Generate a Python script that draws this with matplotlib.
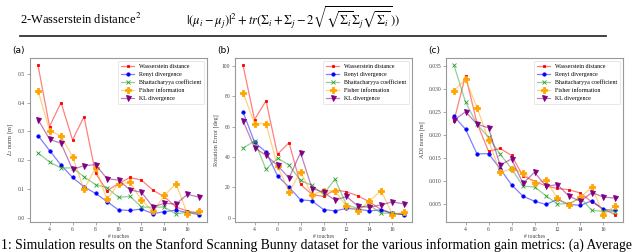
import matplotlib
matplotlib.use("Agg")
import matplotlib.pyplot as plt
from matplotlib.colors import to_rgba
from matplotlib.lines import Line2D

touches = list(range(3, 18))
xticks = [4, 6, 8, 10, 12, 14, 16]

series_names = ["Wasserstein distance", "Renyi divergence", "Bhattacharyya coefficient",
                "Fisher information", "KL divergence"]

# Panel (a): L2 norm [m]
a_wass = [0.528, 0.317, 0.400, 0.271, 0.351, 0.156, 0.095, 0.120, 0.141, 0.132, 0.097, 0.074, 0.039, 0.025, 0.017]
a_renyi = [0.286, 0.234, 0.184, 0.141, 0.109, 0.086, 0.058, 0.029, 0.027, 0.032, 0.016, 0.023, 0.028, 0.020, 0.013]
a_bhat = [0.226, 0.194, 0.174, 0.174, 0.144, 0.116, 0.106, 0.072, 0.076, 0.039, 0.038, 0.039, 0.015, 0.021, 0.020]
a_fisher = [0.441, 0.303, 0.284, 0.213, 0.100, 0.174, 0.065, 0.120, 0.124, 0.063, 0.024, 0.079, 0.120, 0.014, 0.025]
a_kl = [0.341, 0.273, 0.259, 0.169, 0.182, 0.185, 0.137, 0.132, 0.098, 0.090, 0.039, 0.052, 0.049, 0.083, 0.073]

# Panel (b): Rotation Error [deg]
b_wass = [100.2, 64.6, 76.9, 41.8, 49.5, 22.0, 15.4, 14.1, 18.5, 17.1, 14.5, 10.5, 5.5, 3.1, 2.2]
b_renyi = [69.7, 49.7, 43.3, 27.7, 20.2, 11.9, 11.2, 5.5, 4.6, 6.2, 5.7, 4.6, 5.3, 2.9, 2.2]
b_bhat = [45.9, 50.5, 31.9, 39.3, 34.7, 24.6, 21.3, 15.4, 25.5, 8.6, 6.2, 8.4, 3.1, 3.1, 2.6]
b_fisher = [82.4, 62.0, 61.8, 34.1, 17.1, 30.1, 15.2, 18.0, 17.6, 7.7, 4.6, 11.0, 18.0, 2.2, 3.7]
b_kl = [63.7, 46.2, 41.1, 34.5, 26.2, 42.9, 19.3, 16.9, 11.6, 14.1, 7.7, 7.0, 8.6, 10.5, 9.2]

# Panel (c): ADI norm [m]
c_wass = [0.0232, 0.0330, 0.0226, 0.0165, 0.0171, 0.0156, 0.0111, 0.0100, 0.0089, 0.0084, 0.0081, 0.0074, 0.0054, 0.0039, 0.0027]
c_renyi = [0.0241, 0.0213, 0.0159, 0.0160, 0.0127, 0.0092, 0.0067, 0.0056, 0.0049, 0.0060, 0.0049, 0.0047, 0.0057, 0.0038, 0.0036]
c_bhat = [0.0352, 0.0272, 0.0224, 0.0195, 0.0159, 0.0127, 0.0089, 0.0087, 0.0068, 0.0050, 0.0051, 0.0063, 0.0036, 0.0034, 0.0033]
c_fisher = [0.0297, 0.0322, 0.0260, 0.0189, 0.0119, 0.0127, 0.0118, 0.0095, 0.0102, 0.0062, 0.0048, 0.0065, 0.0086, 0.0027, 0.0046]
c_kl = [0.0233, 0.0251, 0.0224, 0.0216, 0.0135, 0.0148, 0.0095, 0.0119, 0.0089, 0.0092, 0.0067, 0.0056, 0.0075, 0.0065, 0.0063]

panel_labels = ["(a)", "(b)", "(c)"]
ylabels = ["$L_2$ norm [m]", "Rotation Error [deg]", "ADI norm [m]"]
panels = [
    [a_wass, a_renyi, a_bhat, a_fisher, a_kl],
    [b_wass, b_renyi, b_bhat, b_fisher, b_kl],
    [c_wass, c_renyi, c_bhat, c_fisher, c_kl],
]
yticks = [
    [0.0, 0.1, 0.2, 0.3, 0.4, 0.5],
    [0, 20, 40, 60, 80, 100],
    [0.005, 0.010, 0.015, 0.020, 0.025, 0.030, 0.035],
]
ytickfmt = ["{:.1f}", "{:d}", "{:.3f}"]

colors = ["red", "blue", "tab:green", "orange", "purple"]
markers = ["s", "o", "x", "P", "v"]
msizes = [1.8, 2.4, 3.2, 4.3, 3.6]

plt.rcParams["font.family"] = ["Liberation Serif", "DejaVu Serif"]
plt.rcParams["mathtext.fontset"] = "stix"

fig = plt.figure(figsize=(6.4, 2.52), dpi=100)

lefts = [30 / 640, 235 / 640, 446 / 640]
width = 177 / 640
bottom = 1 - 222 / 252
height = 164 / 252

for i in range(3):
    ax = fig.add_axes([lefts[i], bottom, width, height])
    for s in range(5):
        c = colors[s]
        ax.plot(touches, panels[i][s], color=to_rgba(c, 0.5), lw=0.9,
                marker=markers[s], markersize=msizes[s],
                markerfacecolor=c, markeredgecolor=c, markeredgewidth=0.6,
                label=series_names[s])
    ax.set_xticks(xticks)
    ax.set_xticklabels([str(t) for t in xticks])
    ax.set_yticks(yticks[i])
    ax.set_yticklabels([ytickfmt[i].format(v) for v in yticks[i]])
    ax.tick_params(labelsize=4, length=2, width=0.5, color="#888888",
                   labelcolor="#444444", pad=1.5)
    for sp in ax.spines.values():
        sp.set_color("#999999")
        sp.set_linewidth(0.8)
    ax.set_xlabel("# touches", fontsize=4, color="#444444", labelpad=1.5)
    ax.set_ylabel(ylabels[i], fontsize=4.5, color="#444444", labelpad=2)
    leg = ax.legend(loc="upper right", fontsize=4.3, frameon=True,
                    handlelength=2.2, borderpad=0.5, labelspacing=0.45,
                    handletextpad=0.8, fancybox=True)
    leg.get_frame().set_linewidth(0.4)
    leg.get_frame().set_edgecolor("#cccccc")
    fig.text(lefts[i] - 18 / 640, 1 - 55 / 252, panel_labels[i], fontsize=6.5,
             family="DejaVu Sans", ha="left", va="bottom")

# Table row and rule from the page above the figure
fig.text(20 / 640, 1 - 19 / 252, "2-Wasserstein distance$^2$", fontsize=9,
         ha="left", va="center")
fig.text(186 / 640, 1 - 18 / 252,
         r"$|(\mu_i-\mu_j)|^2+tr(\Sigma_i+\Sigma_j-2\sqrt{\sqrt{\Sigma_i}\Sigma_j\sqrt{\Sigma_i}}))$",
         fontsize=9, ha="left", va="center")
fig.add_artist(Line2D([20 / 640, 606 / 640], [1 - 36 / 252, 1 - 36 / 252],
                      color="#333333", lw=1.3, transform=fig.transFigure))

# Caption (from the page below the figure)
fig.text(1 / 640, 1 - 245 / 252,
         "1: Simulation results on the Stanford Scanning Bunny dataset for the various information gain metrics: (a) Average",
         fontsize=9.8, ha="left", va="center")

fig.savefig("out.png", dpi=100)
